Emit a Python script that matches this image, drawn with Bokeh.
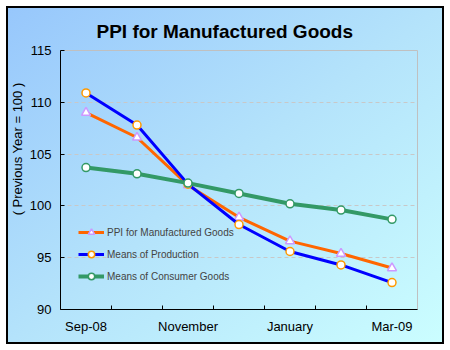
from bokeh.plotting import figure
from bokeh.models import (FactorRange, LinearAxis, FixedTicker, Range1d, Title,
                          Legend, LegendItem)
from bokeh.embed import file_html
from bokeh.resources import INLINE

# ---- data ----
months = ["Sep-08", "October", "November", "December", "January", "February", "Mar-09"]
shown_labels = ["Sep-08", "November", "January", "Mar-09"]
ppi = [109.0, 106.6, 102.0, 98.9, 96.6, 95.4, 94.0]
production = [110.9, 107.8, 102.1, 98.2, 95.6, 94.3, 92.6]
consumer = [103.7, 103.1, 102.2, 101.2, 100.2, 99.6, 98.7]
y_ticks = [90, 95, 100, 105, 110, 115]
series_names = ["PPI for Manufactured Goods", "Means of Production", "Means of Consumer Goods"]
chart_title = "PPI for Manufactured Goods"
y_title = "( Previous Year = 100 )"

FONT = "Liberation Sans"

p = figure(width=450, height=350,
           x_range=FactorRange(factors=months),
           y_range=Range1d(y_ticks[0], y_ticks[-1]),
           x_axis_type=None,
           output_backend="svg", toolbar_location=None,
           min_border_left=60, min_border_right=33,
           min_border_top=50, min_border_bottom=41)
p.border_fill_color = None
p.background_fill_color = None
p.outline_line_color = "#c0c0c0"
p.outline_line_width = 1
p.styles = {
    "background": "linear-gradient(to bottom right, #96c6fc 0%, #b4e3fb 50%, #ccffff 100%)",
    "box-shadow": "inset 0 0 0 6px white, inset 0 0 0 8px black",
}

# title
p.title.text = chart_title
p.title.align = "left"
p.title.offset = 36
p.title.standoff = 17
p.title.text_font = FONT
p.title.text_font_size = "19px"
p.title.text_font_style = "bold"
p.title.text_color = "black"

# y axis
yax = p.yaxis[0]
yax.ticker = FixedTicker(ticks=y_ticks)
yax.axis_line_color = "black"
yax.major_tick_line_color = "black"
yax.major_tick_in = 4
yax.major_tick_out = 0
yax.minor_tick_line_color = None
yax.major_label_standoff = 9
yax.major_label_text_font = FONT
yax.major_label_text_font_size = "13px"
yax.major_label_text_color = "black"

p.add_layout(Title(text=y_title, align="right", offset=32, standoff=4,
                   text_font=FONT, text_font_size="13px", text_font_style="normal",
                   text_color="black"), "left")

p.ygrid.grid_line_color = "#c8c8c8"
p.ygrid.grid_line_dash = "4 3"
p.ygrid.grid_line_width = 1

# x axis: labels at category centres, tick marks at category boundaries
label_pos = [months.index(l) + 0.5 for l in shown_labels]
xax = LinearAxis(
    ticker=FixedTicker(ticks=label_pos, minor_ticks=list(range(1, len(months)))),
    major_label_overrides={pos: lab for pos, lab in zip(label_pos, shown_labels)},
)
xax.axis_line_color = "black"
xax.major_tick_line_color = None
xax.major_tick_in = 0
xax.major_tick_out = 0
xax.minor_tick_line_color = "black"
xax.minor_tick_in = 4
xax.minor_tick_out = 0
xax.major_label_standoff = 9
xax.major_label_text_font = FONT
xax.major_label_text_font_size = "13px"
xax.major_label_text_color = "black"
p.add_layout(xax, "below")

# series
r1 = p.line(months, ppi, line_color="#ff6600", line_width=3)
m1 = p.scatter(months, ppi, marker="triangle", size=9, fill_color="white",
               line_color="#cc99ff", line_width=1.5)
r2 = p.line(months, production, line_color="#0000ff", line_width=3)
m2 = p.scatter(months, production, marker="circle", size=8, fill_color="white",
               line_color="#ff9900", line_width=1.5)
r3 = p.line(months, consumer, line_color="#339966", line_width=4)
m3 = p.scatter(months, consumer, marker="circle", size=8, fill_color="white",
               line_color="#339966", line_width=1.5)

legend = Legend(items=[LegendItem(label=series_names[0], renderers=[r1, m1]),
                       LegendItem(label=series_names[1], renderers=[r2, m2]),
                       LegendItem(label=series_names[2], renderers=[r3, m3])],
                location=(18, 25))
legend.glyph_width = 26
legend.glyph_height = 16
legend.label_standoff = 3
legend.spacing = 6
legend.padding = 5
legend.margin = 0
legend.border_line_color = None
legend.background_fill_alpha = 0
legend.label_text_font = FONT
legend.label_text_font_size = "10px"
p.add_layout(legend)

open("out.html", "w").write(file_html(p, INLINE))
